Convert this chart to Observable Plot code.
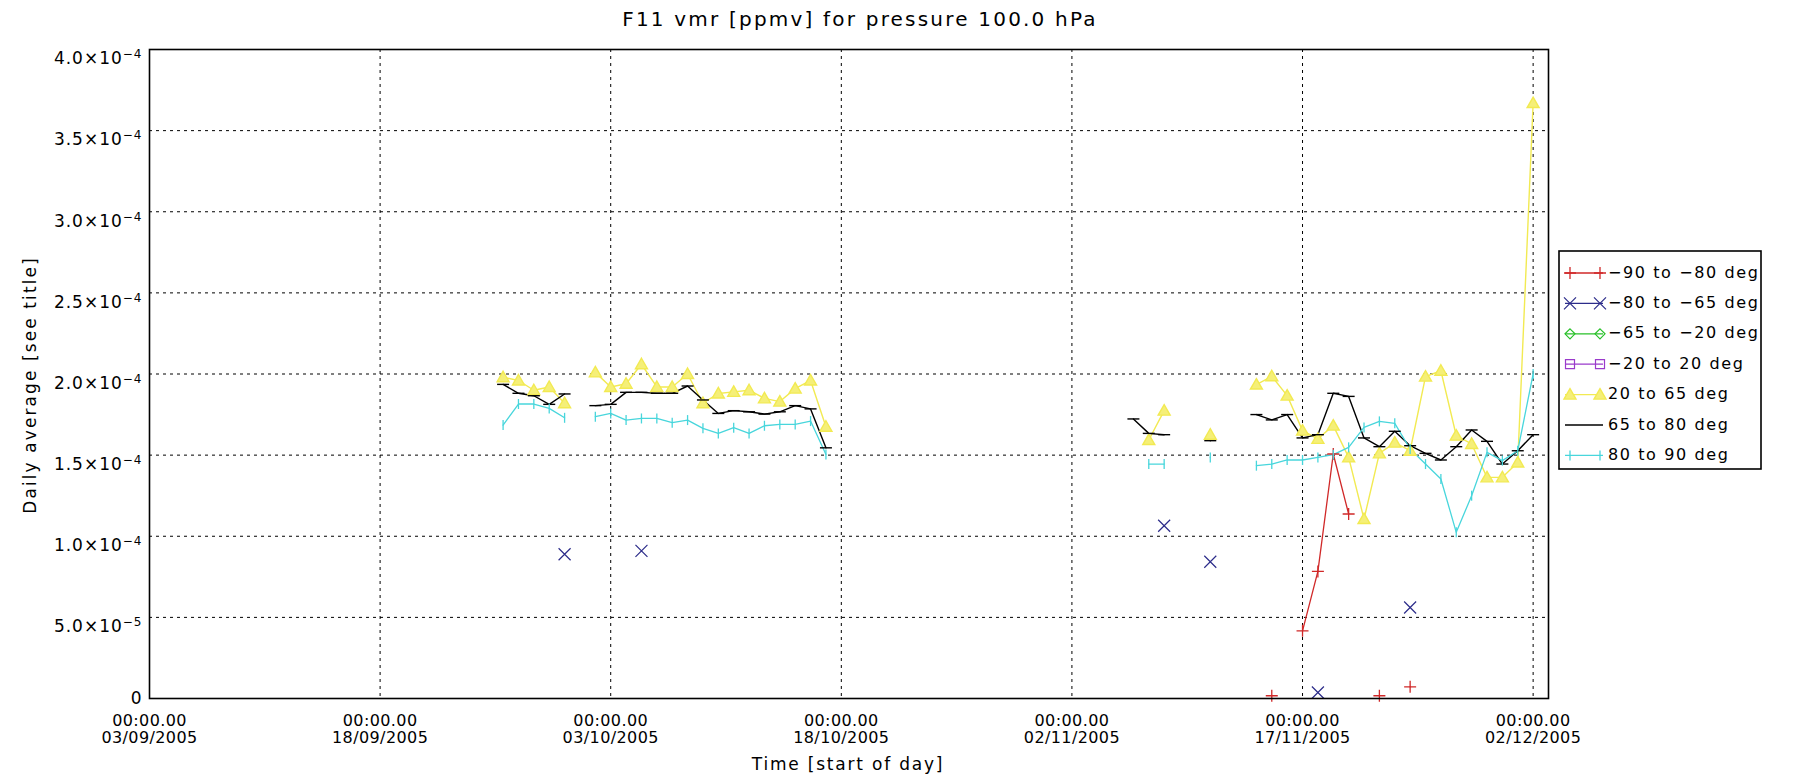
<!DOCTYPE html>
<html><head><meta charset="utf-8">
<script src="https://cdn.jsdelivr.net/npm/d3@7"></script>
<script src="https://cdn.jsdelivr.net/npm/@observablehq/plot@0.6"></script>
<style>
html,body{margin:0;padding:0;background:#fff;}
#wrap{position:relative;width:1801px;height:783px;overflow:hidden;}
#overlay{position:absolute;left:0;top:0;pointer-events:none;}
</style></head><body><div id="wrap"></div>
<script>
// ---- data (values in units of 1e-4 ppmv) ----
const UNIT = 1e-4;
const xTickDates = ["2005-09-03","2005-09-18","2005-10-03","2005-10-18","2005-11-02","2005-11-17","2005-12-02"];
const yTickValues = [0, 0.5e-4, 1.0e-4, 1.5e-4, 2.0e-4, 2.5e-4, 3.0e-4, 3.5e-4, 4.0e-4];

const datesS90_80 = ["2005-11-15","2005-11-17","2005-11-18","2005-11-19","2005-11-20","2005-11-22","2005-11-24"];
const valsS90_80  = [0.017, 0.417, 0.783, 1.507, 1.137, 0.017, 0.072];

const datesS80_65 = ["2005-09-30","2005-10-05","2005-11-08","2005-11-11","2005-11-18","2005-11-24"];
const valsS80_65  = [0.889, 0.91, 1.065, 0.843, 0.037, 0.561];

const datesS65_20 = [];
const valsS65_20  = [];
const datesS20_20 = [];
const valsS20_20  = [];

const datesN20_65 = ["2005-09-26","2005-09-27","2005-09-28","2005-09-29","2005-09-30",
  "2005-10-02","2005-10-03","2005-10-04","2005-10-05","2005-10-06","2005-10-07","2005-10-08","2005-10-09",
  "2005-10-10","2005-10-11","2005-10-12","2005-10-13","2005-10-14","2005-10-15","2005-10-16","2005-10-17",
  "2005-11-07","2005-11-08","2005-11-11",
  "2005-11-14","2005-11-15","2005-11-16","2005-11-17","2005-11-18","2005-11-19","2005-11-20","2005-11-21",
  "2005-11-22","2005-11-23","2005-11-24","2005-11-25","2005-11-26","2005-11-27","2005-11-28","2005-11-29",
  "2005-11-30","2005-12-01","2005-12-02"];
const valsN20_65 = [1.98,1.96,1.90,1.92,1.82,
  2.01,1.92,1.94,2.06,1.92,1.92,2.00,1.82,1.88,1.89,1.90,1.85,1.83,1.91,1.96,1.675,
  1.593,1.774,1.626,
  1.935,1.986,1.867,1.651,1.60,1.682,1.486,1.106,1.511,1.577,1.527,1.984,2.02,1.62,1.569,1.363,1.363,1.455,3.67];

const datesN65_80 = ["2005-09-26","2005-09-27","2005-09-28","2005-09-29","2005-09-30",
  "2005-10-02","2005-10-03","2005-10-04","2005-10-05","2005-10-06","2005-10-07","2005-10-08","2005-10-09",
  "2005-10-10","2005-10-11","2005-10-12","2005-10-13","2005-10-14","2005-10-15","2005-10-16","2005-10-17",
  "2005-11-06","2005-11-07","2005-11-08","2005-11-11",
  "2005-11-14","2005-11-15","2005-11-16","2005-11-17","2005-11-18","2005-11-19","2005-11-20","2005-11-21",
  "2005-11-22","2005-11-23","2005-11-24","2005-11-25","2005-11-26","2005-11-27","2005-11-28","2005-11-29",
  "2005-11-30","2005-12-01","2005-12-02"];
const valsN65_80 = [1.936,1.881,1.866,1.813,1.877,
  1.805,1.813,1.887,1.887,1.881,1.881,1.926,1.84,1.757,1.774,1.767,1.753,1.767,1.805,1.785,1.545,
  1.723,1.634,1.626,1.589,
  1.75,1.717,1.75,1.606,1.626,1.881,1.862,1.606,1.552,1.647,1.558,1.511,1.470,1.552,1.655,1.585,1.445,1.527,1.626];

const datesN80_90 = ["2005-09-26","2005-09-27","2005-09-28","2005-09-29","2005-09-30",
  "2005-10-02","2005-10-03","2005-10-04","2005-10-05","2005-10-06","2005-10-07","2005-10-08","2005-10-09",
  "2005-10-10","2005-10-11","2005-10-12","2005-10-13","2005-10-14","2005-10-15","2005-10-16","2005-10-17",
  "2005-11-07","2005-11-08","2005-11-11",
  "2005-11-14","2005-11-15","2005-11-16","2005-11-17","2005-11-18","2005-11-19","2005-11-20","2005-11-21",
  "2005-11-22","2005-11-23","2005-11-24","2005-11-25","2005-11-26","2005-11-27","2005-11-28","2005-11-29",
  "2005-11-30","2005-12-01","2005-12-02"];
const valsN80_90 = [1.685,1.815,1.815,1.788,1.73,
  1.737,1.757,1.716,1.726,1.726,1.70,1.716,1.665,1.634,1.669,1.634,1.681,1.689,1.689,1.71,1.504,
  1.445,1.445,1.486,
  1.435,1.445,1.470,1.470,1.486,1.503,1.548,1.671,1.708,1.696,1.538,1.445,1.353,1.024,1.25,1.517,1.466,1.527,2.0];

// ---- symbols (r = half size in px) ----
const R = s => Math.sqrt(s / Math.PI);
const SYM = {
  plus:  {draw(c,s){const r=R(s);c.moveTo(-r,0);c.lineTo(r,0);c.moveTo(0,-r);c.lineTo(0,r);}},
  times: {draw(c,s){const r=R(s);c.moveTo(-r,-r);c.lineTo(r,r);c.moveTo(-r,r);c.lineTo(r,-r);}},
  diamond:{draw(c,s){const r=R(s);c.moveTo(0,-r);c.lineTo(r,0);c.lineTo(0,r);c.lineTo(-r,0);c.closePath();}},
  square:{draw(c,s){const r=R(s);c.rect(-r,-r,2*r,2*r);}},
  tri:   {draw(c,s){const r=R(s);c.moveTo(0,-r);c.lineTo(r,r*0.75);c.lineTo(-r,r*0.75);c.closePath();}},
  hline: {draw(c,s){const r=R(s);c.moveTo(-r,0);c.lineTo(r,0);}},
  vline: {draw(c,s){const r=R(s);c.moveTo(0,-r);c.lineTo(0,r);}}
};

const series = [
  {label:"\u221290 to \u221280 deg", dates:datesS90_80, vals:valsS90_80, color:"#d02828", sym:"plus",   r:6,   sw:1.3, fill:"none"},
  {label:"\u221280 to \u221265 deg", dates:datesS80_65, vals:valsS80_65, color:"#2c2c8a", sym:"times",  r:6,   sw:1.2, fill:"none"},
  {label:"\u221265 to \u221220 deg", dates:datesS65_20, vals:valsS65_20, color:"#28c028", sym:"diamond",r:5,   sw:1.2, fill:"none"},
  {label:"\u221220 to 20 deg",       dates:datesS20_20, vals:valsS20_20, color:"#9a3acb", sym:"square", r:4.5, sw:1.2, fill:"none"},
  {label:"20 to 65 deg",             dates:datesN20_65, vals:valsN20_65, color:"#f2ea52", sym:"tri",    r:6,   sw:1.4, fill:"#f5ef78"},
  {label:"65 to 80 deg",             dates:datesN65_80, vals:valsN65_80, color:"#000000", sym:"hline",  r:6,   sw:1.4, fill:"none"},
  {label:"80 to 90 deg",             dates:datesN80_90, vals:valsN80_90, color:"#48d6dc", sym:"vline",  r:5,   sw:1.3, fill:"none"}
];

// build rows; a line only joins consecutive days
const DAY = 86400000;
series.forEach((s, si) => {
  let seg = 0, prev = null;
  s.rows = s.dates.map((d, i) => {
    const t = new Date(d + "T00:00:00Z");
    if (prev !== null && t - prev > DAY * 1.5) seg++;
    prev = t;
    return {date: t, value: s.vals[i] * UNIT, seg: si + "-" + seg};
  });
});

const yFmt = v => {
  if (v === 0) return "0";
  const e = Math.floor(Math.log10(v) + 1e-9);
  const m = v / Math.pow(10, e);
  return m.toFixed(1) + "\u00d710^\u2212" + (-e);
};
const xFmt = d => "00:00.00\n" + d3.utcFormat("%d/%m/%Y")(d);
const xTicks = xTickDates.map(d => new Date(d + "T00:00:00Z"));

const marks = [
  Plot.gridY(yTickValues, {stroke:"#000", strokeOpacity:1, strokeWidth:1, strokeDasharray:"3,4"}),
  Plot.gridX(xTicks, {stroke:"#000", strokeOpacity:1, strokeWidth:1, strokeDasharray:"3,4"}),
  Plot.axisY(yTickValues, {tickSize:0, tickPadding:7, tickFormat:yFmt, label:null, fontSize:17}),
  Plot.axisX(xTicks, {tickSize:0, tickPadding:16, tickFormat:xFmt, label:null, fontSize:16, lineHeight:1.05})
];
series.forEach(s => {
  if (!s.rows.length) return;
  marks.push(Plot.line(s.rows, {x:"date", y:"value", z:"seg", stroke:s.color, strokeWidth:s.sw, curve:"linear"}));
});
series.forEach(s => {
  if (!s.rows.length) return;
  marks.push(Plot.dot(s.rows, {x:"date", y:"value", symbol:SYM[s.sym], r:s.r, stroke:s.color, fill:s.fill, strokeWidth:s.sw}));
});
marks.push(Plot.frame({stroke:"#000", strokeWidth:1.6}));

const chart = Plot.plot({
  width:1801, height:783,
  marginLeft:149, marginRight:253, marginTop:49, marginBottom:85,
  style:{fontFamily:"'DejaVu Sans', sans-serif", fontSize:"16px", background:"#fff", color:"#000"},
  x:{type:"utc", domain:[new Date("2005-09-03T00:00:00Z"), new Date("2005-12-03T00:00:00Z")]},
  y:{domain:[0, 4e-4]},
  marks
});
document.getElementById("wrap").appendChild(chart);

// superscript exponents on y tick labels, wider spacing like the original
const NS = "http://www.w3.org/2000/svg";
chart.querySelectorAll('g[aria-label="y-axis tick label"] text').forEach(t => {
  t.setAttribute("letter-spacing", "1px");
  const parts = t.textContent.split("^");
  if (parts.length === 2) {
    t.textContent = parts[0];
    t.setAttribute("dy", "0.55em");
    const ts = document.createElementNS(NS, "tspan");
    ts.setAttribute("dy", "-0.5em");
    ts.setAttribute("font-size", "12px");
    ts.textContent = parts[1];
    t.appendChild(ts);
  }
});
chart.querySelectorAll('g[aria-label="x-axis tick label"] text').forEach(t => t.setAttribute("letter-spacing", "0.4px"));

// overlay: title, axis titles, legend
const ov = d3.select("#wrap").append("svg").attr("id","overlay").attr("width",1801).attr("height",783)
  .style("font-family","'DejaVu Sans', sans-serif");
ov.append("text").attr("x",860).attr("y",20).attr("text-anchor","middle").attr("dominant-baseline","middle")
  .attr("font-size",20).attr("letter-spacing","2.2px").text("F11 vmr [ppmv] for pressure 100.0 hPa");
ov.append("text").attr("x",848).attr("y",765).attr("text-anchor","middle").attr("dominant-baseline","middle")
  .attr("font-size",17).attr("letter-spacing","1.8px").text("Time [start of day]");
ov.append("text").attr("transform","translate(31,385) rotate(-90)").attr("text-anchor","middle")
  .attr("dominant-baseline","middle").attr("font-size",17).attr("letter-spacing","2.1px").text("Daily average [see title]");

const lg = ov.append("g");
lg.append("rect").attr("x",1559).attr("y",251).attr("width",202).attr("height",218)
  .attr("fill","#fff").attr("stroke","#000").attr("stroke-width",1.6);
series.forEach((s, i) => {
  const y = 273 + i * 30.4;
  lg.append("line").attr("x1",1565).attr("x2",1603).attr("y1",y).attr("y2",y)
    .attr("stroke",s.color).attr("stroke-width",s.sw);
  if (s.sym !== "hline") {
    const p = d3.symbol(SYM[s.sym], Math.PI * s.r * s.r)();
    [1570,1600].forEach(x => lg.append("path").attr("d",p).attr("transform",`translate(${x},${y})`)
      .attr("fill",s.fill).attr("stroke",s.color).attr("stroke-width",s.sw));
  }
  lg.append("text").attr("x",1608).attr("y",y).attr("dominant-baseline","middle")
    .attr("font-size",16).attr("letter-spacing","1.6px").text(s.label);
});
</script></body></html>
